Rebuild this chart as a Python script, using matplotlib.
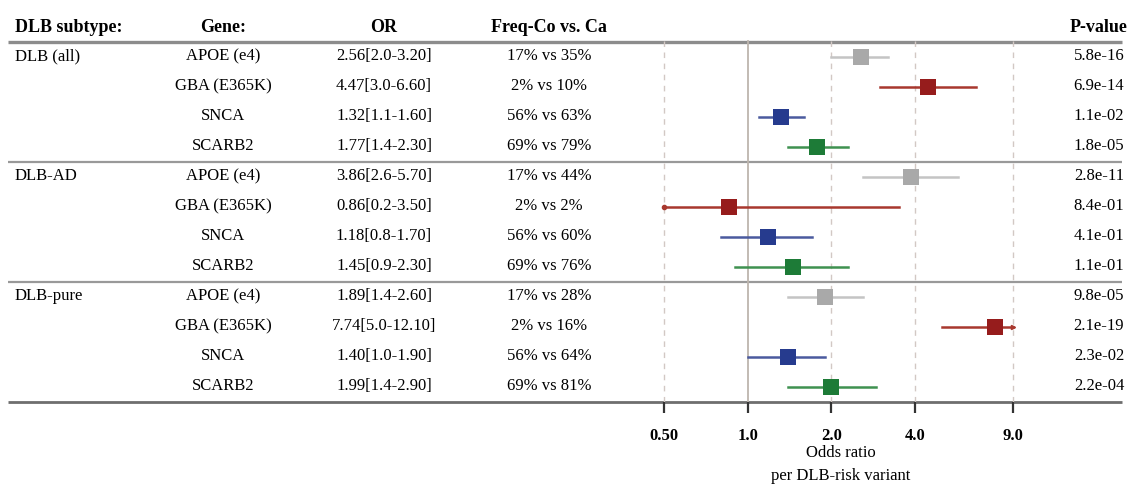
import matplotlib.pyplot as plt

plt.rcParams['font.family'] = ['Liberation Serif', 'DejaVu Serif']

# table data
subtypes = ['DLB (all)', 'DLB-AD', 'DLB-pure']
genes = ['APOE (e4)', 'GBA (E365K)', 'SNCA', 'SCARB2']
odds = [2.56, 4.47, 1.32, 1.77, 3.86, 0.86, 1.18, 1.45, 1.89, 7.74, 1.40, 1.99]
ci_low = [2.0, 3.0, 1.1, 1.4, 2.6, 0.2, 0.8, 0.9, 1.4, 5.0, 1.0, 1.4]
ci_high = [3.20, 6.60, 1.60, 2.30, 5.70, 3.50, 1.70, 2.30, 2.60, 12.10, 1.90, 2.90]
freq_co = [17, 2, 56, 69, 17, 2, 56, 69, 17, 2, 56, 69]
freq_ca = [35, 10, 63, 79, 44, 2, 60, 76, 28, 16, 64, 81]
p_values = ['5.8e-16', '6.9e-14', '1.1e-02', '1.8e-05',
            '2.8e-11', '8.4e-01', '4.1e-01', '1.1e-01',
            '9.8e-05', '2.1e-19', '2.3e-02', '2.2e-04']
headers = ['DLB subtype:', 'Gene:', 'OR', 'Freq-Co vs. Ca', 'P-value']
tick_values = [0.5, 1.0, 2.0, 4.0, 9.0]
tick_labels = ['0.50', '1.0', '2.0', '4.0', '9.0']

gene_colors = {'APOE (e4)': ('#a9a9a9', '#c4c4c4'),
               'GBA (E365K)': ('#961c1c', '#a8382e'),
               'SNCA': ('#263b8e', '#4a5a9e'),
               'SCARB2': ('#1d7b37', '#3f9150')}

W, H = 1130, 484
fig = plt.figure(figsize=(W / 100, H / 100), dpi=100)

# background axes in pixel units for the table part
ax = fig.add_axes([0, 0, 1, 1])
ax.set_xlim(0, W)
ax.set_ylim(H, 0)
ax.axis('off')

row_y0, row_step = 56.5, 30.0
col_sub, col_gene, col_or, col_freq, col_p = 15, 223, 384, 549, 1099
fs = 12
hfs = 13
head_y = 28

ax.text(col_sub, head_y, headers[0], fontsize=hfs, fontweight='bold', ha='left', va='center')
ax.text(col_gene, head_y, headers[1], fontsize=hfs, fontweight='bold', ha='center', va='center')
ax.text(col_or, head_y, headers[2], fontsize=hfs, fontweight='bold', ha='center', va='center')
ax.text(col_freq, head_y, headers[3], fontsize=hfs, fontweight='bold', ha='center', va='center')
ax.text(col_p, head_y, headers[4], fontsize=hfs, fontweight='bold', ha='center', va='center')

n_genes = len(genes)
for i in range(len(odds)):
    y = row_y0 + row_step * i
    gene = genes[i % n_genes]
    if i % n_genes == 0:
        ax.text(col_sub, y, subtypes[i // n_genes], fontsize=fs, ha='left', va='center')
    ax.text(col_gene, y, gene, fontsize=fs, ha='center', va='center')
    ax.text(col_or, y, '%.2f[%.1f-%.2f]' % (odds[i], ci_low[i], ci_high[i]),
            fontsize=fs, ha='center', va='center')
    ax.text(col_freq, y, '%d%% vs %d%%' % (freq_co[i], freq_ca[i]),
            fontsize=fs, ha='center', va='center')
    ax.text(col_p, y, p_values[i], fontsize=fs, ha='center', va='center')

# horizontal rules
ax.hlines(41.5, 8, 1122, color='#8c8c8c', lw=2.4)
for k in range(1, len(subtypes)):
    ax.hlines(row_y0 + row_step * (k * n_genes - 0.5), 8, 1122, color='#999999', lw=1.6)
ax.hlines(402, 8, 1122, color='#6e6e6e', lw=2.0, zorder=5)

# forest plot axes (log scale), x from 0.5 to 9.0
x0, x1 = 664, 1013
axf = fig.add_axes([x0 / W, (H - 402) / H, (x1 - x0) / W, (402 - 41) / H])
axf.set_xscale('log')
xmin, xmax = tick_values[0], tick_values[-1]
axf.set_xlim(xmin, xmax)
axf.set_ylim(402, 41)
axf.patch.set_alpha(0)
for s in ['top', 'left', 'right', 'bottom']:
    axf.spines[s].set_visible(False)
axf.set_yticks([])
axf.set_xticks(tick_values)
axf.set_xticklabels(tick_labels, fontsize=fs, fontweight='bold')
axf.minorticks_off()
axf.tick_params(axis='x', length=8, width=1.6, color='#333333', pad=11)

for v in tick_values:
    if v == 1.0:
        axf.axvline(v, color='#bdb5ae', lw=1.3, zorder=0, clip_on=False)
    else:
        axf.axvline(v, color='#d2c8c4', lw=1.0, ls=(0, (4, 4)), zorder=0, clip_on=False)

for i in range(len(odds)):
    y = row_y0 + row_step * i
    gene = genes[i % n_genes]
    sq_col, ln_col = gene_colors[gene]
    lo = max(ci_low[i], xmin)
    hi = min(ci_high[i], xmax)
    axf.plot([lo, hi], [y, y], color=ln_col, lw=1.8, zorder=2, clip_on=False)
    if ci_low[i] < xmin:
        axf.plot(lo, y, marker='o', color=ln_col, markersize=3, zorder=2, clip_on=False)
    if ci_high[i] > xmax:
        axf.plot(hi, y, marker='>', color=ln_col, markersize=3, zorder=2, clip_on=False)
    axf.plot(odds[i], y, marker='s', color=sq_col, markersize=11.5, markeredgewidth=0,
             zorder=3, clip_on=False)

ax.text(841, 453, 'Odds ratio', fontsize=fs, ha='center', va='center')
ax.text(841, 476, 'per DLB-risk variant', fontsize=fs, ha='center', va='center')

fig.savefig('out.png', dpi=100)
